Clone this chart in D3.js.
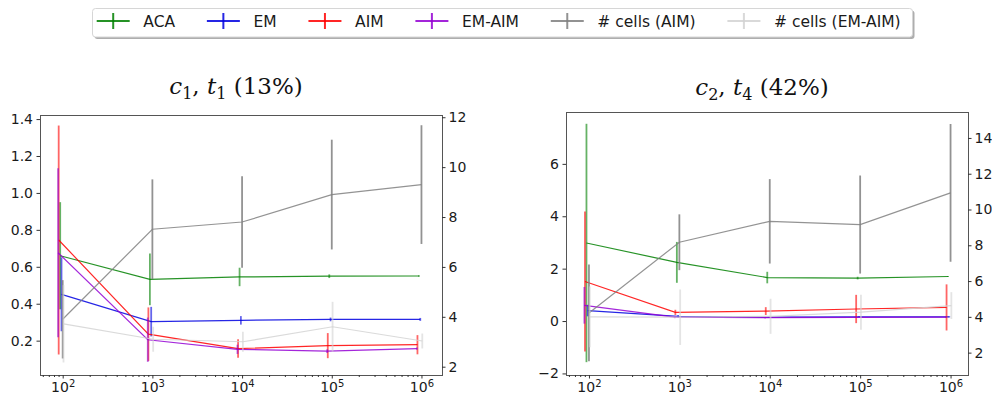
<!DOCTYPE html>
<html>
<head>
<meta charset="utf-8">
<script src="https://cdn.jsdelivr.net/npm/d3@7"></script>
<style>
  body { margin: 0; background: white; }
  text { font-family: "DejaVu Sans", sans-serif; }
</style>
</head>
<body>
<main></main>
<script>
// sample sizes (x axis, log scale)
const sizes = [100, 1000, 10000, 100000, 1000000]
const names = ["ACA", "EM", "AIM", "EM-AIM", "# cells (AIM)", "# cells (EM-AIM)"]
const colors = ["#008000", "#0000e0", "#ff0000", "#9400d3", "#808080", "#d3d3d3"]

// panel 1 : c1, t1 (13%)  -- mean and std
const aca1 = [0.66, 0.532, 0.545, 0.549, 0.55]
const aca1Err = [0.29, 0.14, 0.05, 0.01, 0.004]
const em1 = [0.451, 0.303, 0.31, 0.315, 0.315]
const em1Err = [0.2, 0.08, 0.023, 0.01, 0.008]
const aim1 = [0.745, 0.235, 0.157, 0.173, 0.178]
const aim1Err = [0.62, 0.145, 0.05, 0.068, 0.052]
const emAim1 = [0.676, 0.205, 0.153, 0.143, 0.157]
const emAim1Err = [0.457, 0.12, 0.025, 0.01, 0.006]
const cellsAim1 = [3.9, 7.51, 7.8, 8.9, 9.3]
const cellsAim1Err = [1.57, 2.0, 1.83, 2.2, 2.38]
const cellsEmAim1 = [3.72, 3.1, 3.0, 3.6, 3.03]
const cellsEmAim1Err = [1.55, 0.5, 0.4, 1.0, 0.3]

// panel 2 : c2, t4 (42%)
const aca2 = [2.98, 2.24, 1.66, 1.64, 1.70]
const aca2Err = [4.55, 0.78, 0.22, 0.05, 0.02]
const em2 = [0.4, 0.18, 0.15, 0.16, 0.16]
const em2Err = [0.22, 0.05, 0.03, 0.02, 0.02]
const aim2 = [1.51, 0.33, 0.38, 0.46, 0.52]
const aim2Err = [2.67, 0.1, 0.15, 0.54, 0.88]
const emAim2 = [0.6, 0.15, 0.13, 0.14, 0.15]
const emAim2Err = [0.7, 0.04, 0.03, 0.02, 0.02]
const cellsAim2 = [4.22, 8.17, 9.34, 9.16, 10.93]
const cellsAim2Err = [2.7, 1.56, 2.36, 2.74, 3.85]
const cellsEmAim2 = [4.0, 3.98, 4.03, 4.26, 4.63]
const cellsEmAim2Err = [1.7, 1.55, 0.98, 0.98, 0.75]

// ticks
const xTicks = [1e2, 1e3, 1e4, 1e5, 1e6]
const leftTicks1 = [0.2, 0.4, 0.6, 0.8, 1.0, 1.2, 1.4]
const rightTicks1 = [2, 4, 6, 8, 10, 12]
const leftTicks2 = [-2, 0, 2, 4, 6]
const rightTicks2 = [2, 4, 6, 8, 10, 12, 14]

//set dimensions
const svgWidth = 992
const svgHeight = 396

// small horizontal shift of each series so the bars don't overlap (px)
const dodge = [-2.5, -1.2, -4, -4.6, 0, 0.8]

let svg = d3.select("main")
  .append("svg")
  .attr("width", svgWidth)
  .attr("height", svgHeight)
  .style("background-color", "white")

function drawPanel(p) {
  let xScale = d3.scaleLog().domain(p.xDomain).range([p.left, p.right])
  let yLeft = d3.scaleLinear().domain(p.yDomain).range([p.bottom, p.top])
  let yRight = d3.scaleLinear().domain(p.y2Domain).range([p.bottom, p.top])

  let g = svg.append("g")

  // clip to plot box
  g.append("clipPath").attr("id", p.id)
    .append("rect")
    .attr("x", p.left).attr("y", p.top)
    .attr("width", p.right - p.left).attr("height", p.bottom - p.top)

  let plot = g.append("g").attr("clip-path", `url(#${p.id})`)

  p.values.forEach(function (vals, i) {
    let scale = i < 4 ? yLeft : yRight
    let pts = sizes.map((n, j) => ({ n: n, v: vals[j], e: p.errors[i][j] }))

    // error bars
    plot.append("g")
      .selectAll("line")
      .data(pts)
      .enter()
      .append("line")
      .attr("x1", d => xScale(d.n) + dodge[i])
      .attr("x2", d => xScale(d.n) + dodge[i])
      .attr("y1", d => scale(d.v - d.e))
      .attr("y2", d => scale(d.v + d.e))
      .style("stroke", colors[i])
      .style("stroke-width", 1.8)
      .style("opacity", i == 4 ? 0.85 : 0.6)

    let line = d3.line()
      .x(d => xScale(d.n) + dodge[i])
      .y(d => scale(d.v))

    plot.append("path")
      .datum(pts)
      .attr("d", line)
      .style("fill", "none")
      .style("stroke", colors[i])
      .style("stroke-width", 1.2)
      .style("opacity", 0.85)
  })

  // box
  g.append("rect")
    .attr("x", p.left).attr("y", p.top)
    .attr("width", p.right - p.left).attr("height", p.bottom - p.top)
    .style("fill", "none")
    .style("stroke", "#555")
    .style("stroke-width", 1)
    .attr("shape-rendering", "crispEdges")

  // minor x ticks
  let minor = []
  for (let e = 1; e <= 6; e++) {
    for (let m = 2; m <= 9; m++) {
      let v = m * Math.pow(10, e)
      if (v > p.xDomain[0] && v < p.xDomain[1]) minor.push(v)
    }
  }
  let minorAxis = g.append("g")
    .attr("transform", `translate(0, ${p.bottom})`)
    .call(d3.axisBottom(xScale).tickValues(minor).tickSize(2).tickFormat(""))
  minorAxis.select(".domain").remove()

  let xAxis = g.append("g")
    .attr("transform", `translate(0, ${p.bottom})`)
    .call(d3.axisBottom(xScale).tickValues(xTicks).tickSize(3.5).tickPadding(3.5).tickFormat(""))
  xAxis.select(".domain").remove()
  xAxis.selectAll(".tick text").each(function (d) {
    let t = d3.select(this)
    t.text("10")
    t.append("tspan")
      .attr("dy", "-0.45em")
      .style("font-size", "10px")
      .text(Math.round(Math.log10(d)))
  })

  let leftAxis = g.append("g")
    .attr("transform", `translate(${p.left}, 0)`)
    .call(d3.axisLeft(yLeft).tickValues(p.leftTicks).tickSize(3.5).tickPadding(3.5).tickFormat(p.leftFormat))
  leftAxis.select(".domain").remove()

  let rightAxis = g.append("g")
    .attr("transform", `translate(${p.right}, 0)`)
    .call(d3.axisRight(yRight).tickValues(p.rightTicks).tickSize(3.5).tickPadding(3).tickFormat(d3.format("d")))
  rightAxis.select(".domain").remove()

  g.selectAll(".tick line").style("stroke", "#333")
  g.selectAll(".tick text")
    .style("font-size", "14px")
    .style("font-family", "DejaVu Sans")
    .attr("fill", "#1a1a1a")

  // title
  let title = g.append("text")
    .attr("x", (p.left + p.right) / 2 - 5)
    .attr("y", p.titleY)
    .attr("text-anchor", "middle")
    .style("font-family", "DejaVu Serif")
    .style("font-size", "23px")
    .attr("fill", "#111")
  title.append("tspan").style("font-style", "italic").text("c")
  title.append("tspan").attr("dy", 5).style("font-size", "16px").text(p.sub[0])
  title.append("tspan").attr("dy", -5).text(", ")
  title.append("tspan").style("font-style", "italic").text("t")
  title.append("tspan").attr("dy", 5).style("font-size", "16px").text(p.sub[1])
  title.append("tspan").attr("dy", -5).text("\u00a0(" + p.pct + ")")
}

drawPanel({
  id: "clip1",
  left: 40, right: 442, top: 115, bottom: 375,
  xDomain: [Math.pow(10, 1.747), Math.pow(10, 6.229)],
  yDomain: [0.014, 1.422],
  y2Domain: [1.667, 12.09],
  leftTicks: leftTicks1, rightTicks: rightTicks1,
  leftFormat: d3.format(".1f"),
  values: [aca1, em1, aim1, emAim1, cellsAim1, cellsEmAim1],
  errors: [aca1Err, em1Err, aim1Err, emAim1Err, cellsAim1Err, cellsEmAim1Err],
  sub: ["1", "1"], pct: "13%", titleY: 93.5
})

drawPanel({
  id: "clip2",
  left: 566, right: 968, top: 112, bottom: 375,
  xDomain: [Math.pow(10, 1.746), Math.pow(10, 6.193)],
  yDomain: [-2.06, 7.98],
  y2Domain: [0.75, 15.45],
  leftTicks: leftTicks2, rightTicks: rightTicks2,
  leftFormat: d3.format("d"),
  values: [aca2, em2, aim2, emAim2, cellsAim2, cellsEmAim2],
  errors: [aca2Err, em2Err, aim2Err, emAim2Err, cellsAim2Err, cellsEmAim2Err],
  sub: ["2", "4"], pct: "42%", titleY: 95
})

//legend
let legend = svg.append("g")
let legendLeft = 92.5, legendTop = 8.5, legendRight = 912.5, legendBottom = 37

legend.append("rect")
  .attr("x", legendLeft + 2).attr("y", legendTop + 2)
  .attr("width", legendRight - legendLeft).attr("height", legendBottom - legendTop)
  .attr("rx", 3)
  .style("fill", "#9a9a9a")
  .style("opacity", 0.8)

legend.append("rect")
  .attr("x", legendLeft).attr("y", legendTop)
  .attr("width", legendRight - legendLeft).attr("height", legendBottom - legendTop)
  .attr("rx", 3)
  .style("fill", "white")
  .style("stroke", "#d6d6d6")
  .style("stroke-width", 1)

let cursor = 96.7
names.forEach(function (name, i) {
  let item = legend.append("g")
  item.append("line")
    .attr("x1", cursor).attr("x2", cursor + 33)
    .attr("y1", 21).attr("y2", 21)
    .style("stroke", colors[i]).style("stroke-width", 2).style("opacity", 0.85)
  item.append("line")
    .attr("x1", cursor + 16.5).attr("x2", cursor + 16.5)
    .attr("y1", 13).attr("y2", 29)
    .style("stroke", colors[i]).style("stroke-width", 2).style("opacity", 0.85)
  let label = item.append("text")
    .attr("x", cursor + 46.6)
    .attr("y", 27)
    .style("font-size", "15.5px")
    .attr("fill", "#1a1a1a")
    .text(name)
  cursor = cursor + 46.6 + label.node().getComputedTextLength() + 31.8
})
</script>
</body>
</html>
